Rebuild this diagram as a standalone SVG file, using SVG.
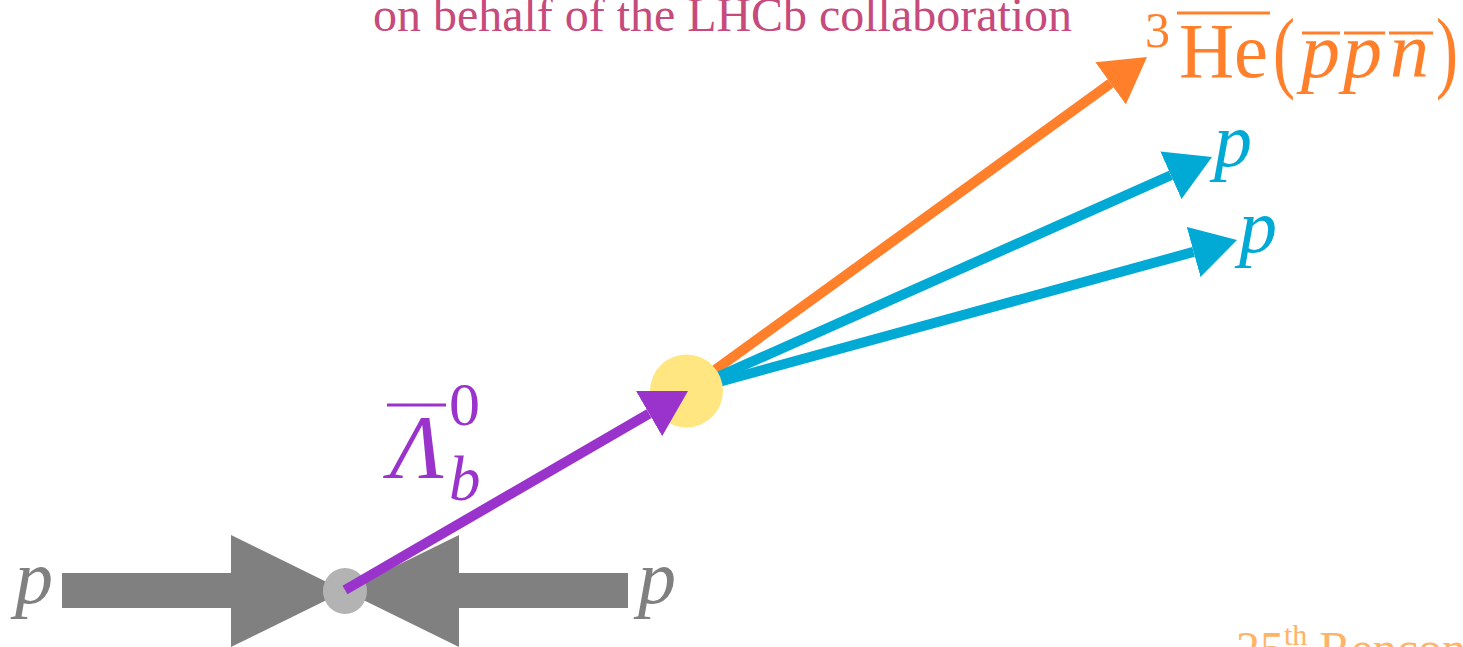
<svg xmlns="http://www.w3.org/2000/svg" width="1463" height="647" viewBox="0 0 1463 647">
<style>
.serif{font-family:"Liberation Serif","DejaVu Serif",serif}
.it{font-family:"Liberation Serif","DejaVu Serif",serif;font-style:italic}
.purple{fill:#9933cc}
.orange{fill:#ff7f2a}
.blue{fill:#00aad4}
.gray{fill:#808080}
</style>
<defs>
<marker id="ah-purple" viewBox="0 -26 45 52" refX="0" refY="0" markerWidth="45" markerHeight="52" markerUnits="userSpaceOnUse" orient="auto"><path d="M0,-26 L45,0 L0,26 z" fill="#9933cc"/></marker>
<marker id="ah-orange" viewBox="0 -26 45 52" refX="0" refY="0" markerWidth="45" markerHeight="52" markerUnits="userSpaceOnUse" orient="auto"><path d="M0,-26 L45,0 L0,26 z" fill="#ff7f2a"/></marker>
<marker id="ah-blue" viewBox="0 -26 45 52" refX="0" refY="0" markerWidth="45" markerHeight="52" markerUnits="userSpaceOnUse" orient="auto"><path d="M0,-26 L45,0 L0,26 z" fill="#00aad4"/></marker>
</defs>
<rect width="1463" height="647" fill="#ffffff"/>
<text class="serif" x="373" y="31" font-size="48" textLength="699" lengthAdjust="spacingAndGlyphs" fill="#c64a7c">on behalf of the LHCb collaboration</text>
<text class="serif" x="1236" y="665" font-size="48" fill="#ffb366">25<tspan font-size="30" dy="-20">th</tspan><tspan dy="20"> Rencontres</tspan></text>

<g id="beam-left">
<rect x="62" y="573" width="170" height="35" fill="#808080"/>
<polygon points="231,535 231,647 345,591" fill="#808080"/>
<text class="it gray" x="15" y="603" font-size="76">p</text>
</g>
<g id="beam-right">
<rect x="459" y="573" width="169" height="35" fill="#808080"/>
<polygon points="459,535 459,647 345,591" fill="#808080"/>
<text class="it gray" x="638" y="603" font-size="76">p</text>
</g>
<g id="pv">
<ellipse cx="345" cy="591" rx="22" ry="23" fill="#b3b3b3"/>
</g>

<g id="connectors">
<line x1="686" y1="391" x2="1110.6" y2="83.4" stroke="#ff7f2a" stroke-width="10" marker-end="url(#ah-orange)"/>
<line x1="686" y1="391" x2="1170.9" y2="175.3" stroke="#00aad4" stroke-width="10" marker-end="url(#ah-blue)"/>
<line x1="686" y1="391" x2="1193.6" y2="251.9" stroke="#00aad4" stroke-width="10" marker-end="url(#ah-blue)"/>
</g>
<g id="sv">
<circle cx="686.5" cy="391" r="36.5" fill="#ffe680"/>
</g>
<g id="lambda-track">
<line x1="345" y1="590" x2="649.1" y2="413.6" stroke="#9933cc" stroke-width="10" marker-end="url(#ah-purple)"/>
</g>

<g id="label-lambda">
<line x1="387" y1="405" x2="446" y2="405" stroke="#9933cc" stroke-width="3"/>
<text class="it purple" x="390" y="478" font-size="92" textLength="54" lengthAdjust="spacingAndGlyphs">Λ</text>
<text class="serif purple" x="449" y="425" font-size="62">0</text>
<text class="it purple" x="449" y="500" font-size="63">b</text>
</g>

<g id="label-he3">
<text class="serif orange" x="1145" y="47" font-size="50">3</text>
<line x1="1177" y1="13" x2="1270" y2="13" stroke="#ff7f2a" stroke-width="3"/>
<text class="serif orange" x="1179" y="77" font-size="78" textLength="89" lengthAdjust="spacingAndGlyphs">He</text>
<text class="serif orange" x="1273" y="81" font-size="92" textLength="22" lengthAdjust="spacingAndGlyphs">(</text>
<text class="it orange" x="1301" y="77" font-size="78">p</text>
<text class="it orange" x="1343" y="77" font-size="78">p</text>
<text class="it orange" x="1390" y="77" font-size="78">n</text>
<text class="serif orange" x="1436" y="81" font-size="92" textLength="22" lengthAdjust="spacingAndGlyphs">)</text>
<line x1="1302" y1="33" x2="1340" y2="33" stroke="#ff7f2a" stroke-width="3"/>
<line x1="1344" y1="33" x2="1385" y2="33" stroke="#ff7f2a" stroke-width="3"/>
<line x1="1389" y1="33" x2="1433" y2="33" stroke="#ff7f2a" stroke-width="3"/>
</g>

<g id="label-p1">
<text class="it blue" x="1214" y="166" font-size="76">p</text>
</g>
<g id="label-p2">
<text class="it blue" x="1239" y="252" font-size="76">p</text>
</g>
</svg>
